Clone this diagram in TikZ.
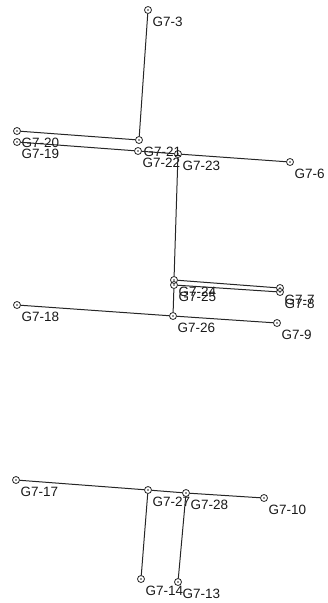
\documentclass[tikz,border=0pt]{standalone}
\usepackage{fontspec}
\setmainfont{Liberation Sans}
\begin{document}
\begin{tikzpicture}[x=1pt,y=-1pt,
  pt/.style={circle,draw=black!85,line width=0.8pt,minimum size=7pt,inner sep=0pt,
    path picture={\fill[black!85] (path picture bounding box.center) circle (0.9pt);}},
  lbl/.style={anchor=west,inner sep=0pt,font=\fontsize{13.5}{14}\selectfont,text=black!90},
  wire/.style={draw=black!85,line width=1pt}]
\useasboundingbox (0,0) rectangle (327,603);
\node[pt] (g3) at (148,10) {};
\node[pt] (g20) at (17,131) {};
\node[pt] (g21) at (139,140) {};
\node[pt] (g19) at (17,142) {};
\node[pt] (g22) at (138,151) {};
\node[pt] (g23) at (178,154) {};
\node[pt] (g6) at (290,162) {};
\node[pt] (g24) at (174,280) {};
\node[pt] (g25) at (174,285) {};
\node[pt] (g7) at (280,288) {};
\node[pt] (g8) at (280,292) {};
\node[pt] (g18) at (17,305) {};
\node[pt] (g26) at (173,316) {};
\node[pt] (g9) at (277,323) {};
\node[pt] (g17) at (16,480) {};
\node[pt] (g27) at (148,490) {};
\node[pt] (g28) at (186,493) {};
\node[pt] (g10) at (264,498) {};
\node[pt] (g14) at (141,579) {};
\node[pt] (g13) at (178,582) {};
\foreach \n/\t in {g3/G7-3,g20/G7-20,g21/G7-21,g19/G7-19,g22/G7-22,g23/G7-23,g6/G7-6,
  g24/G7-24,g25/G7-25,g7/G7-7,g8/G7-8,g18/G7-18,g26/G7-26,g9/G7-9,g17/G7-17,
  g27/G7-27,g28/G7-28,g10/G7-10,g14/G7-14,g13/G7-13}
  \node[lbl] (l\n) at ([shift={(4.5,12)}]\n.center) {\t};
\path[wire] (g3) -- (g21);
\path[wire] (g20) -- (g21);
\path[wire] (g19) -- (g22);
\path[wire] (g22) -- (g23);
\path[wire] (g23) -- (g6);
\path[wire] (g23) -- (g24);
\path[wire] (g24) -- (g7);
\path[wire] (g25) -- (g8);
\path[wire] (g25) -- (g26);
\path[wire] (g18) -- (g26);
\path[wire] (g26) -- (g9);
\path[wire] (g17) -- (g27);
\path[wire] (g27) -- (g28);
\path[wire] (g28) -- (g10);
\path[wire] (g27) -- (g14);
\path[wire] (g28) -- (g13);
\end{tikzpicture}
\end{document}
